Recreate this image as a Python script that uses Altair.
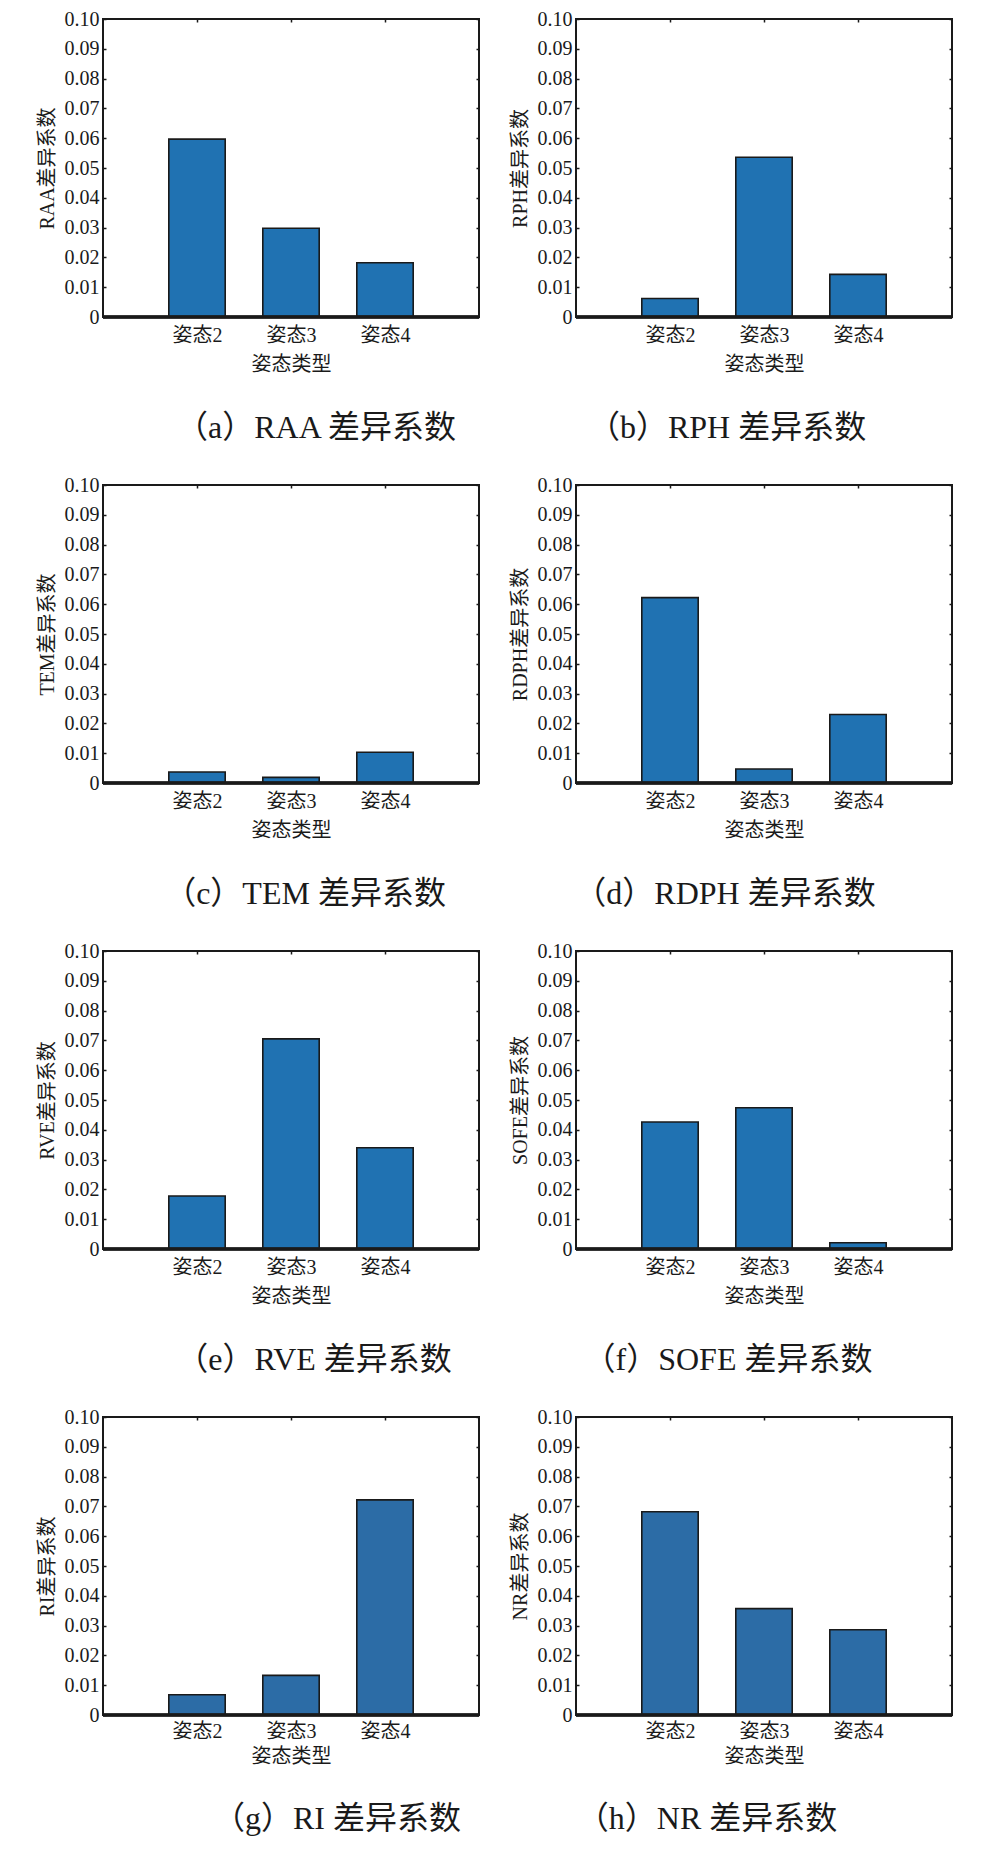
import altair as alt
import pandas as pd

# ---- data ----
states = [2, 3, 4]
raa = [0.0597, 0.0298, 0.0182]
rph = [0.0062, 0.0536, 0.0143]
tem = [0.0037, 0.0019, 0.0103]
rdph = [0.0622, 0.0047, 0.0230]
rve = [0.0178, 0.0705, 0.0340]
sofe = [0.0426, 0.0474, 0.0021]
ri = [0.0068, 0.0133, 0.0722]
nr = [0.0682, 0.0357, 0.0286]

letters = ["a", "b", "c", "d", "e", "f", "g", "h"]
names = ["RAA", "RPH", "TEM", "RDPH", "RVE", "SOFE", "RI", "NR"]
series = [raa, rph, tem, rdph, rve, sofe, ri, nr]

y_ticks = [0, 0.01, 0.02, 0.03, 0.04, 0.05, 0.06, 0.07, 0.08, 0.09, 0.10]
x_ticks = [2, 3, 4]

# ---- styles ----
FONT = "'Liberation Serif', 'Noto Sans CJK SC'"
CAP_FONT = "'Liberation Serif', 'Noto Sans CJK SC'"
DARK = "#1a1a1a"
bar_colors = ["#2072b2"] * 6 + ["#2c6ca6"] * 2
cap_dx = [25, -37, 14, -39, 23, -36, 46, -57]


def panel(i):
    last_row = i >= 6
    df = pd.DataFrame({"state": states, "value": series[i]})
    x_scale = alt.Scale(domain=[1, 5], nice=False, zero=False)
    y_scale = alt.Scale(domain=[0, 0.1], nice=False)

    bars = (
        alt.Chart(df)
        .transform_calculate(x0="datum.state - 0.3", x1="datum.state + 0.3")
        .mark_bar(color=bar_colors[i], stroke=DARK, strokeWidth=1.6)
        .encode(
            x=alt.X(
                "x0:Q",
                scale=x_scale,
                axis=alt.Axis(
                    orient="bottom", values=x_ticks, offset=-3, tickSize=3,
                    tickWidth=1.5, tickColor=DARK, domain=False, grid=False,
                    labelExpr="'姿态' + datum.value", labelFont=FONT,
                    labelFontSize=20, labelColor=DARK,
                    labelPadding=6 if last_row else 8,
                    title="姿态类型", titleFont=FONT, titleFontSize=20,
                    titleFontWeight="normal", titleColor=DARK,
                    titlePadding=5 if last_row else 9,
                ),
            ),
            x2="x1:Q",
            y=alt.Y(
                "value:Q",
                scale=y_scale,
                axis=alt.Axis(
                    orient="left", values=y_ticks, offset=-3, tickSize=3,
                    tickWidth=1.5, tickColor=DARK, domain=False, grid=False,
                    labelExpr="datum.value == 0 ? '0' : format(datum.value, '.2f')",
                    labelFont=FONT, labelFontSize=20, labelColor=DARK,
                    labelPadding=4,
                    title=f"{names[i]}差异系数", titleFont=FONT, titleFontSize=20,
                    titleFontWeight="normal", titleColor=DARK, titlePadding=7,
                ),
            ),
            y2=alt.datum(0),
        )
    )

    baseline = (
        alt.Chart(df)
        .mark_rule(color=DARK, strokeWidth=3)
        .encode(y=alt.YDatum(0, scale=y_scale, axis=None))
    )

    mirror = (
        alt.Chart(df)
        .mark_point(opacity=0)
        .encode(
            x=alt.X(
                "state:Q", scale=x_scale,
                axis=alt.Axis(orient="top", values=x_ticks, offset=-3, tickSize=3,
                              tickWidth=1.5, tickColor=DARK, domain=False,
                              grid=False, labels=False, title=None),
            ),
            y=alt.Y(
                "value:Q", scale=y_scale,
                axis=alt.Axis(orient="right", values=y_ticks, offset=-3, tickSize=3,
                              tickWidth=1.5, tickColor=DARK, domain=False,
                              grid=False, labels=False, title=None),
            ),
        )
    )

    return (
        alt.layer(bars, baseline, mirror)
        .resolve_axis(x="independent", y="independent")
        .properties(
            width=376,
            height=298,
            title=alt.Title(
                text=f"（{letters[i]}）{names[i]} 差异系数",
                orient="bottom", anchor="middle", frame="group",
                font=CAP_FONT, fontSize=32, fontWeight="normal", color=DARK,
                offset=38 if last_row else 39, dx=cap_dx[i],
            ),
        )
    )


chart = (
    alt.concat(*[panel(i) for i in range(8)], columns=2,
               spacing={"row": 168, "column": 97}, bounds="flush")
    .properties(padding={"left": 28, "top": 0, "right": 0, "bottom": 0},
                background="white")
    .configure_view(stroke=DARK, strokeWidth=2)
)

chart.save("out.html", embed_options={"renderer": "svg", "actions": False})
